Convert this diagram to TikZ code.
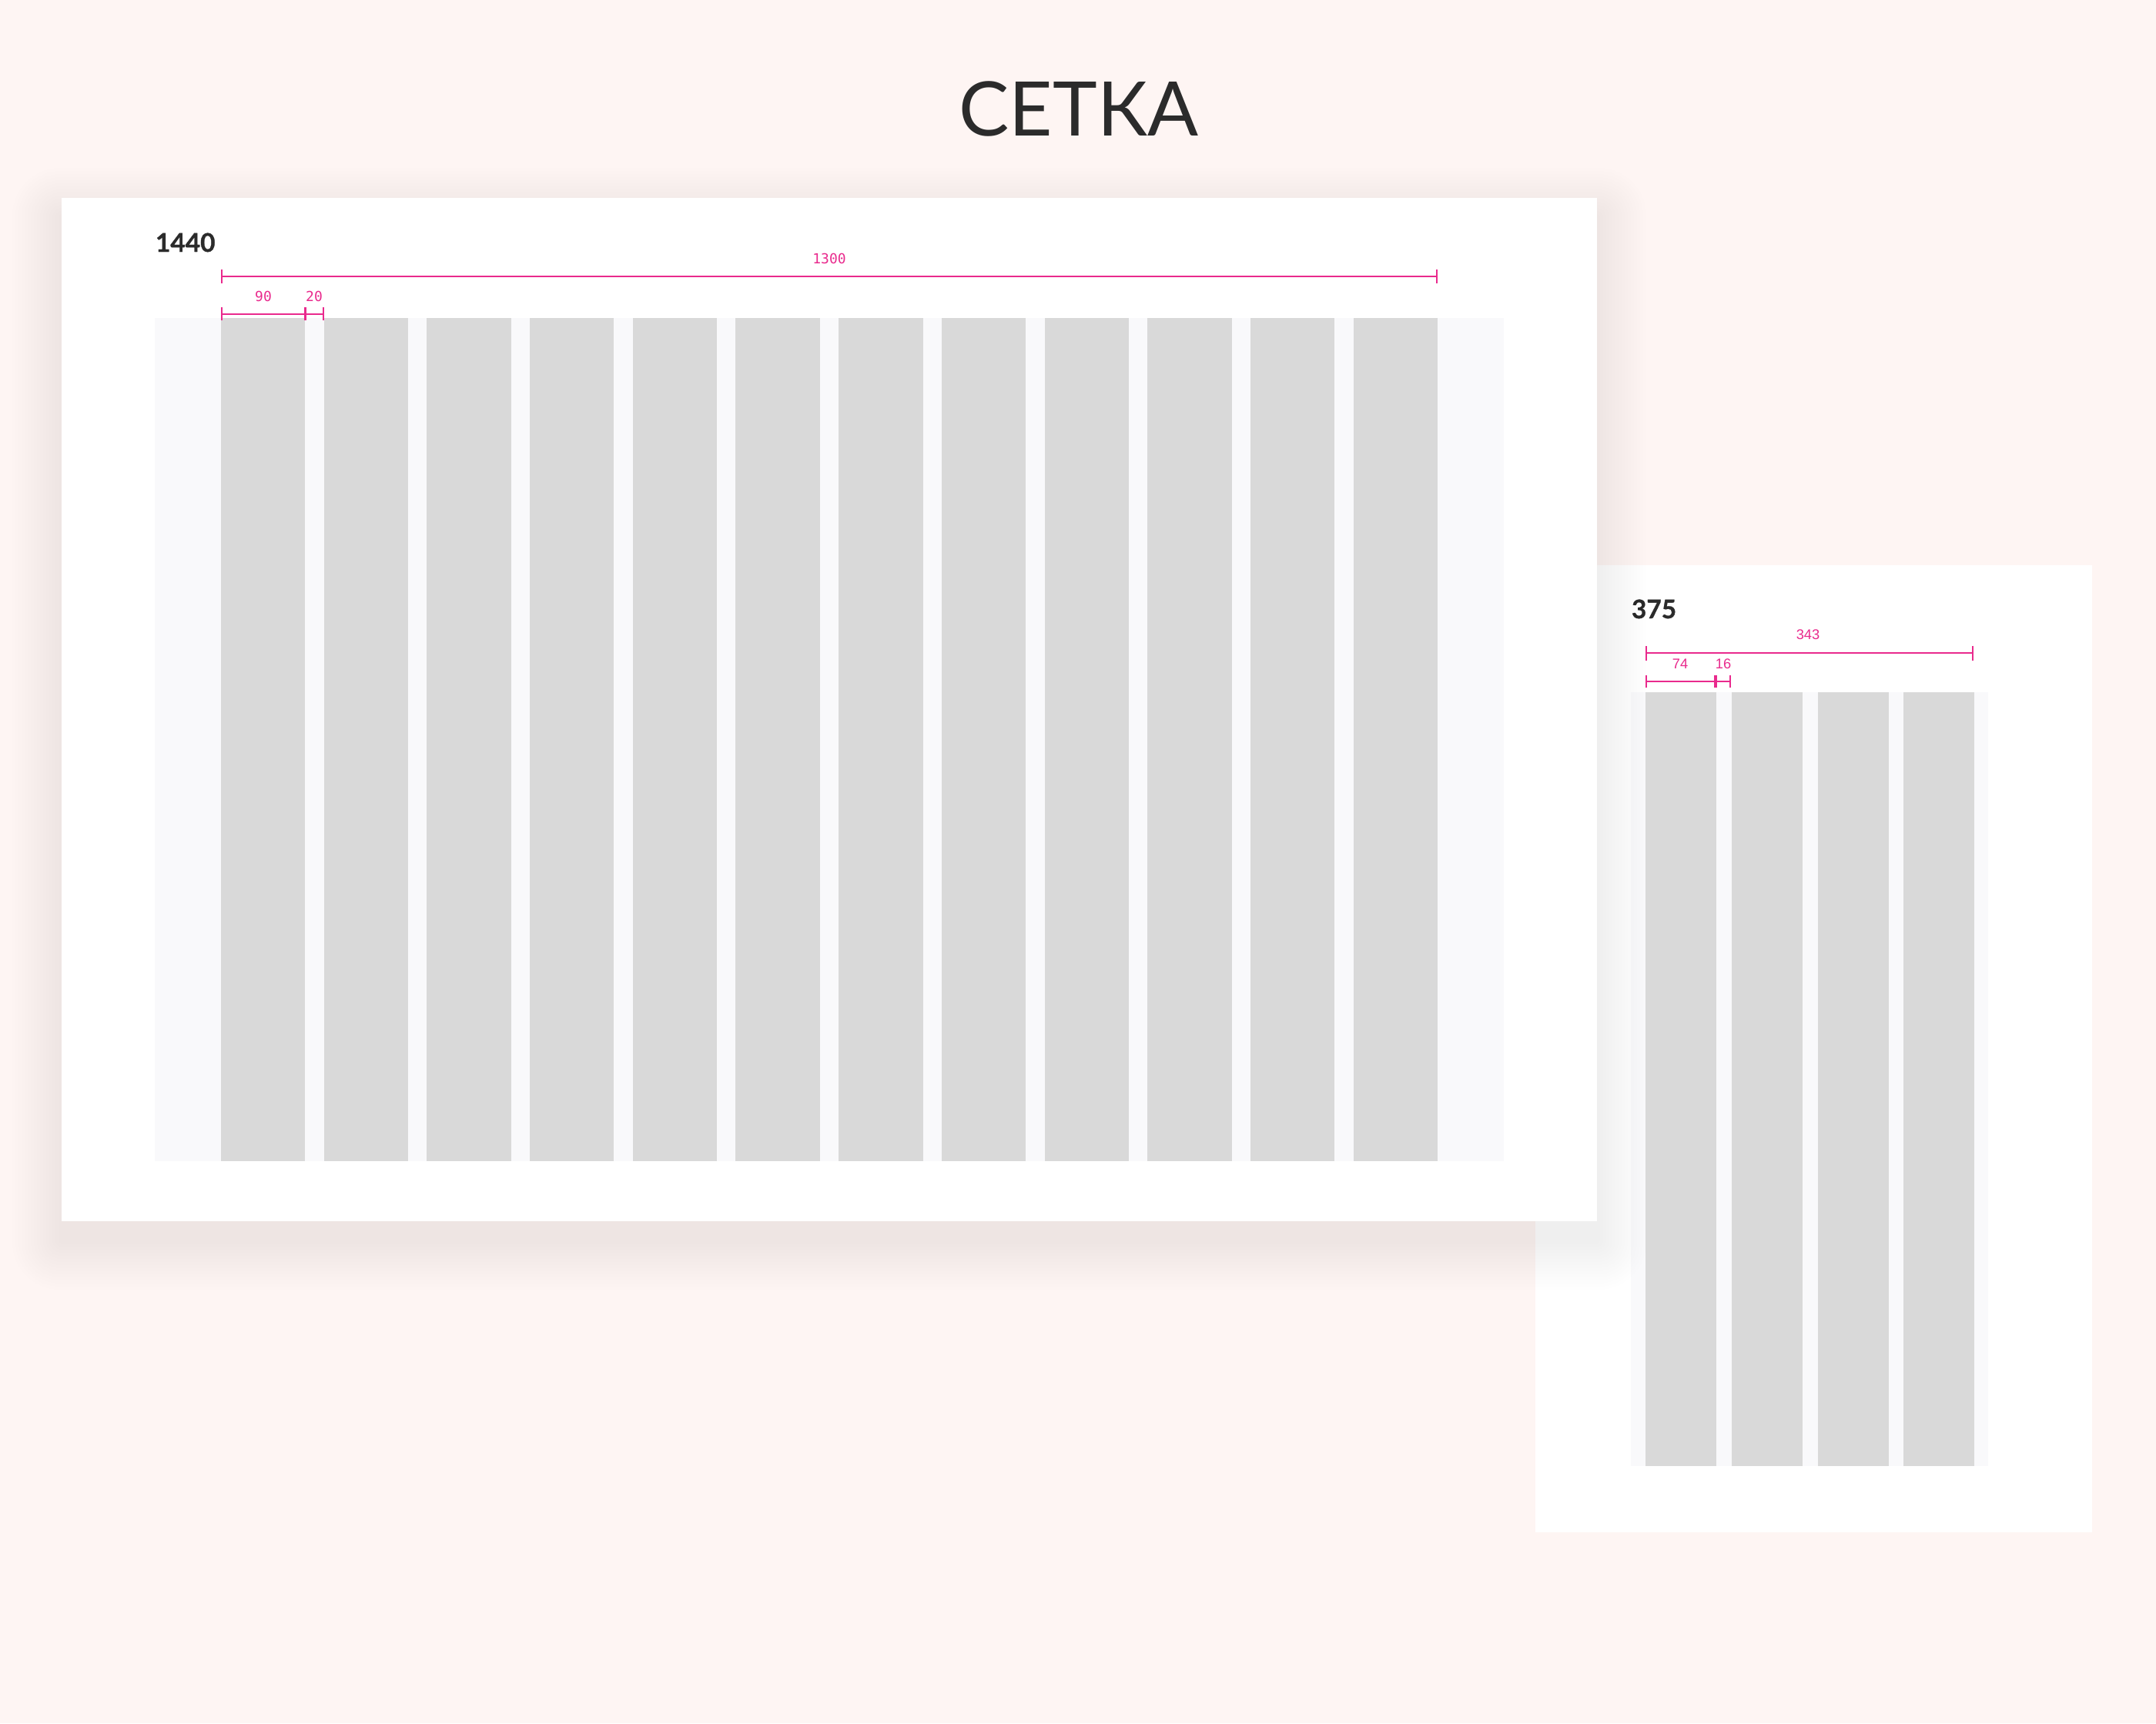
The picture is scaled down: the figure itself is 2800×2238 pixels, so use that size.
\documentclass[tikz,border=0pt]{standalone}
\usepackage{fontspec}
\setmainfont{Lato}
\newfontfamily\sizefont{Lato}[BoldFeatures={FakeBold=0.8}]
\newfontfamily\dimmono{DejaVu Sans Mono}
\newfontfamily\dimsans{Liberation Sans}
\usetikzlibrary{arrows.meta}
\definecolor{pagebg}{HTML}{FEF5F3}
\definecolor{gridbg}{HTML}{F9F9FB}
\definecolor{colgray}{HTML}{D9D9D9}
\definecolor{dimpink}{HTML}{E92A8D}
\definecolor{inkdark}{HTML}{2B2B2B}
\begin{document}
\begin{tikzpicture}[x=0.01cm,y=-0.01cm,
    frame/.style={fill=white},
    gridarea/.style={fill=gridbg},
    col/.style={fill=colgray},
    dimline/.style={draw=dimpink,line width=0.45pt,{Bar[width=#1]}-{Bar[width=#1]}},
    dimline/.default=5pt,
    midtick/.style={draw=dimpink,line width=0.9pt},
    dimtext/.style={text=dimpink,inner sep=0pt,outer sep=0pt,anchor=base},
    sizetext/.style={text=inkdark,inner sep=0pt,outer sep=0pt,anchor=base west,
      font=\sizefont\bfseries\fontsize{9.5}{11}\selectfont}]
  \fill[pagebg] (0,0) rectangle (2800,2238);
  \node[text=inkdark,inner sep=0pt,anchor=base,font=\fontsize{27.8}{30}\selectfont]
    (title) at (1401,176) {СЕТКА};

  \fill[frame] (1994,734) rectangle (2717,1990);
  \fill[gridarea] (2118,899) rectangle (2582,1904);
  \foreach \i in {0,...,3}
    \fill[col] ({2137+\i*111.8},899) rectangle ({2229+\i*111.8},1904);
  \node[sizetext] (w375) at (2119,803) {375};
  \coordinate (m343a) at (2137,848);
  \coordinate (m343b) at (2563,848);
  \coordinate (m74b) at (2228,885);
  \coordinate (m16b) at (2248,885);
  \draw[dimline=5.4pt] (m343a) -- (m343b);
  \draw[dimline=4.8pt] (2137,885) coordinate (m74a) -- (m74b);
  \draw[dimline=4.8pt] (m74b) -- (m16b);
  \draw[midtick] ([yshift=2.4pt]m74b) -- ([yshift=-2.4pt]m74b);
  \node[dimtext,font=\dimsans\fontsize{5.2}{6}\selectfont] (t343) at (2348,830.5) {343};
  \node[dimtext,font=\dimsans\fontsize{5.2}{6}\selectfont] (t74) at (2182,868.5) {74};
  \node[dimtext,font=\dimsans\fontsize{5.2}{6}\selectfont] (t16) at (2238,868.5) {16};

  \foreach \k in {1,...,16} {
    \pgfmathsetmacro\e{\k*4}
    \pgfmathsetmacro\rc{\k*1.1}
    \fill[black,opacity=0.0045,rounded corners=\rc pt]
      ({80-\e},{282-\e}) rectangle ({2074+\e},{1611+\e});
  }
  \fill[frame] (80,257) rectangle (2074,1586);
  \fill[gridarea] (201,413) rectangle (1953,1508);
  \foreach \i in {0,...,11}
    \fill[col] ({287+\i*133.69},413) rectangle ({396.4+\i*133.69},1508);
  \node[sizetext] (w1440) at (202,327) {1440};
  \coordinate (m1300a) at (287,359);
  \coordinate (m1300b) at (1867,359);
  \coordinate (m90a) at (287,407.7);
  \coordinate (m90b) at (396.4,407.7);
  \coordinate (m20b) at (420.7,407.7);
  \draw[dimline] (m1300a) -- (m1300b);
  \draw[dimline=4.8pt] (m90a) -- (m90b);
  \draw[dimline=4.8pt] (m90b) -- (m20b);
  \draw[midtick] ([yshift=2.4pt]m90b) -- ([yshift=-2.4pt]m90b);
  \node[dimtext,font=\dimmono\fontsize{5.1}{6}\selectfont] (t1300) at (1077,342.5) {1300};
  \node[dimtext,font=\dimmono\fontsize{5.1}{6}\selectfont] (t90) at (342,391.5) {90};
  \node[dimtext,font=\dimmono\fontsize{5.1}{6}\selectfont] (t20) at (408,391.5) {20};
\end{tikzpicture}
\end{document}
